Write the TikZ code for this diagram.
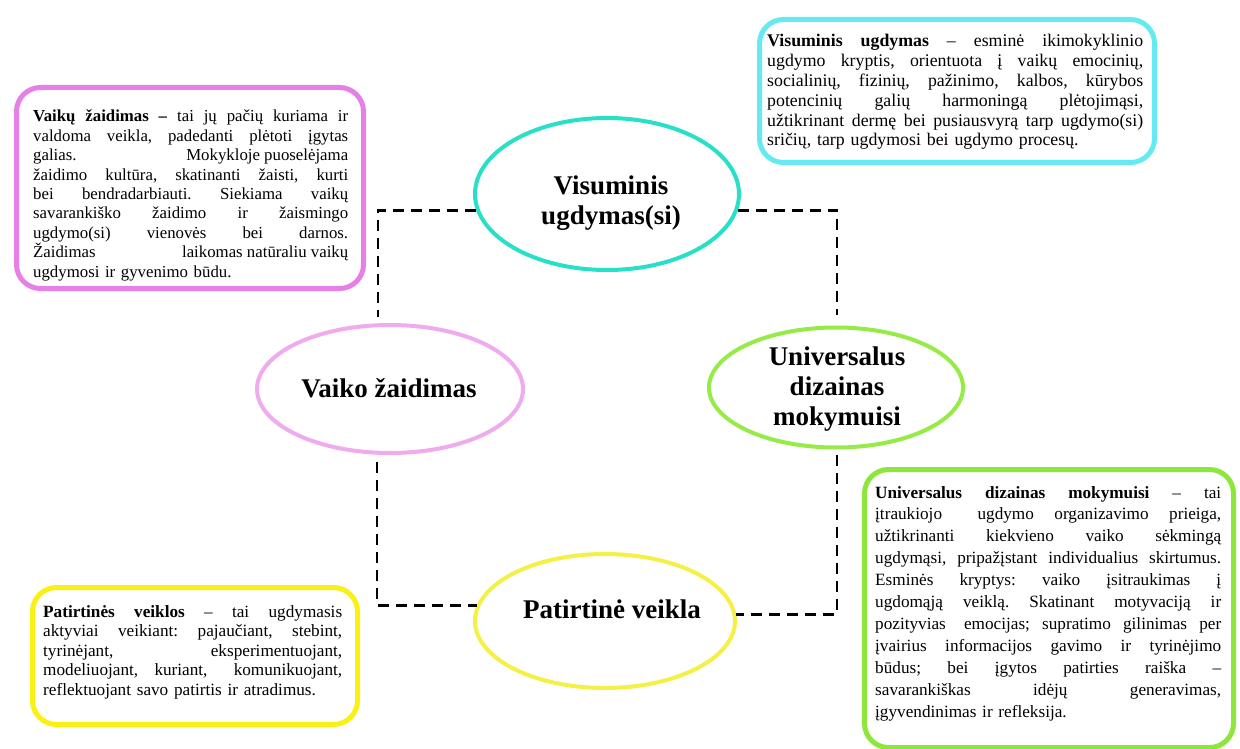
\documentclass[tikz,border=0pt]{standalone}
\usepackage{fontspec}
\setmainfont{Liberation Serif}
\usetikzlibrary{shapes.geometric,calc}
\definecolor{pinkbox}{RGB}{230,128,230}
\definecolor{cyanbox}{RGB}{100,234,240}
\definecolor{greenbox}{RGB}{140,230,60}
\definecolor{yellowbox}{RGB}{250,240,20}
\definecolor{visell}{RGB}{40,224,200}
\definecolor{vaikell}{RGB}{240,170,238}
\definecolor{univell}{RGB}{150,235,70}
\definecolor{patell}{RGB}{245,240,70}
\newcommand{\jl}[1]{\makebox[\linewidth][s]{\frenchspacing\spaceskip=0pt\xspaceskip=0pt #1}}
\begin{document}
\begin{tikzpicture}[x=1pt,y=-1pt,
  infobox/.style={rectangle, rounded corners=24pt, line width=5pt, anchor=north west, inner sep=0pt},
  ell/.style={ellipse, line width=4pt, inner sep=0pt},
  conn/.style={line width=2.8pt, dash pattern=on 11pt off 7pt},
  body/.style={inner sep=0pt, anchor=base west, align=left},
  etext/.style={font=\fontsize{27}{30}\selectfont\bfseries, align=center, inner sep=0pt}]
\useasboundingbox (0,0) rectangle (1240,749);

% info boxes
\node[infobox, draw=pinkbox, minimum width=347pt, minimum height=201pt] (pinkb) at (14,85) {};
\node[infobox, draw=cyanbox, minimum width=395pt, minimum height=143pt] (cyanb) at (757,17) {};
\node[infobox, draw=greenbox, minimum width=369pt, minimum height=278pt] (greenb) at (862,467) {};
\node[infobox, draw=yellowbox, minimum width=325pt, minimum height=137pt] (yellowb) at (30,585) {};

\node[body, text width=315pt, font=\fontsize{16.8}{19.4}\selectfont] (pinkt) at (33,122) {%
\jl{\textbf{Vaikų žaidimas –} tai jų pačių kuriama ir}\\
\jl{valdoma veikla, padedanti plėtoti įgytas}\\
\jl{galias.\hfill Mokykloje puoselėjama}\\
\jl{žaidimo kultūra, skatinanti žaisti, kurti}\\
\jl{bei bendradarbiauti. Siekiama vaikų}\\
\jl{savarankiško žaidimo ir žaismingo}\\
\jl{ugdymo(si) vienovės bei darnos.}\\
\jl{Žaidimas\hfill laikomas natūraliu vaikų}\\
{\frenchspacing ugdymosi ir gyvenimo būdu.}};

\node[body, text width=376pt, font=\fontsize{17.8}{19.8}\selectfont] (cyant) at (767,47) {%
\jl{\textbf{Visuminis ugdymas} – esminė ikimokyklinio}\\
\jl{ugdymo kryptis, orientuota į vaikų emocinių,}\\
\jl{socialinių, fizinių, pažinimo, kalbos, kūrybos}\\
\jl{potencinių galių harmoningą plėtojimąsi,}\\
\jl{užtikrinant dermę bei pusiausvyrą tarp ugdymo(si)}\\
{\frenchspacing sričių, tarp ugdymosi bei ugdymo procesų.}};

\node[body, text width=346pt, font=\fontsize{17.2}{21.9}\selectfont] (greent) at (875,498) {%
\jl{\textbf{Universalus dizainas mokymuisi} – tai}\\
\jl{įtraukiojo\hspace{15pt} ugdymo organizavimo prieiga,}\\
\jl{užtikrinanti kiekvieno vaiko sėkmingą}\\
\jl{ugdymąsi, pripažįstant individualius skirtumus.}\\
\jl{Esminės kryptys: vaiko įsitraukimas į}\\
\jl{ugdomąją veiklą. Skatinant motyvaciją ir}\\
\jl{pozityvias\hspace{6pt} emocijas; supratimo gilinimas per}\\
\jl{įvairius informacijos gavimo ir tyrinėjimo}\\
\jl{būdus; bei įgytos patirties raiška –}\\
\jl{savarankiškas idėjų generavimas,}\\
{\frenchspacing įgyvendinimas ir refleksija.}};

\node[body, text width=299pt, font=\fontsize{17.2}{19.5}\selectfont] (yellowt) at (43,617) {%
\jl{\textbf{Patirtinės veiklos} – tai ugdymasis}\\
\jl{aktyviai veikiant: pajaučiant, stebint,}\\
\jl{tyrinėjant, eksperimentuojant,}\\
\jl{modeliuojant, kuriant,\hspace{10pt} komunikuojant,}\\
{\frenchspacing reflektuojant savo patirtis ir atradimus.}};

% ellipses
\node[ell, draw=visell, minimum width=264pt, minimum height=152pt] (vis) at (607,194) {};
\node[ell, draw=vaikell, minimum width=266pt, minimum height=128pt] (vaiko) at (390,389) {};
\node[ell, draw=univell, minimum width=254pt, minimum height=120pt] (univ) at (836,387.5) {};
\node[ell, draw=patell, minimum width=260pt, minimum height=134pt] (pat) at (605,621) {};

\node[etext] (vist) at (611,203) {Visuminis\\ugdymas(si)};
\node[etext] (vaikot) at (389,388) {Vaiko žaidimas};
\node[etext] (univt) at (837,389) {Universalus\\dizainas\\mokymuisi};
\node[etext] (patt) at (612,609) {Patirtinė veikla};

% dashed connectors
\coordinate (c1) at (378,317);
\coordinate (c2) at (837,315);
\coordinate (c3) at (377,462);
\coordinate (c4) at (837,455);
\draw[conn] (vis.187) -| (c1);
\draw[conn] (vis.-7) -| (c2);
\draw[conn] (c3) |- (pat.173);
\draw[conn] (c4) |- (pat.3);
\end{tikzpicture}
\end{document}
